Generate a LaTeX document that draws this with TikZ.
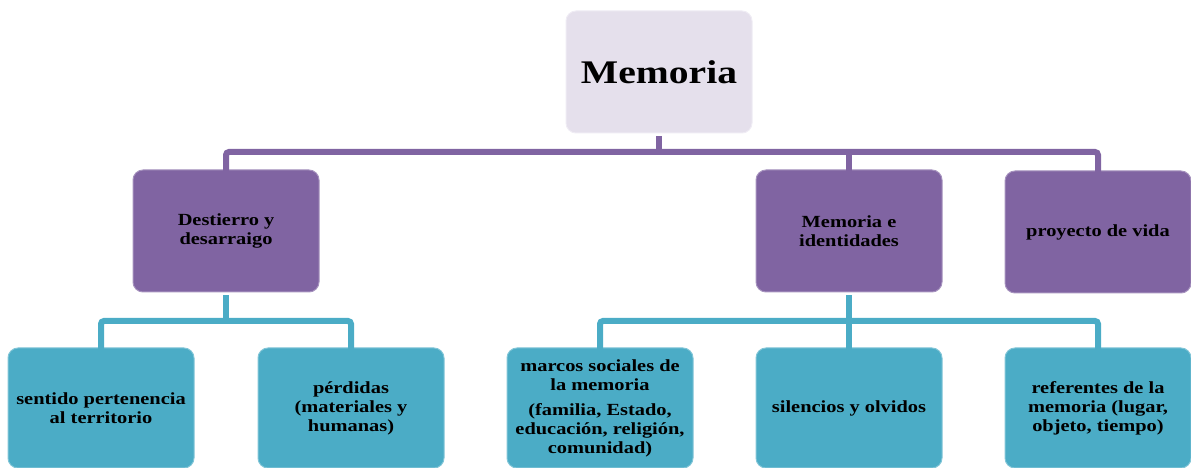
\documentclass[tikz,border=0pt]{standalone}
\usepackage{fontspec}
\setmainfont{Liberation Serif}[FakeStretch=1.2]
\usetikzlibrary{calc}
\definecolor{lav}{HTML}{E5E0EC}
\definecolor{purp}{HTML}{8064A2}
\definecolor{teal}{HTML}{4BACC6}
\tikzset{
  box/.style={rounded corners=10pt, minimum width=186pt, align=center, font=\bfseries\fontsize{17}{19}\selectfont, text=black, line width=1pt},
  topbox/.style={box, fill=lav, draw=lav!60!white, minimum height=122pt, font=\bfseries\fontsize{33}{40}\selectfont},
  midbox/.style={box, fill=purp, draw=purp!70!white, minimum height=122pt},
  lowbox/.style={box, fill=teal, draw=teal!70!white, minimum height=120pt},
  pline/.style={draw=purp, line width=6pt},
  tline/.style={draw=teal, line width=6pt},
}
\begin{document}
\begin{tikzpicture}[x=1pt,y=1pt]
\useasboundingbox (0,0) rectangle (1191,468);
\node[topbox] (mem) at (659,396) {Memoria};
\node[midbox] (d1) at (226,237) {Destierro y\\desarraigo};
\node[midbox] (d2) at (849,237) {Memoria e\\identidades};
\node[midbox] (d3) at (1098,236) {proyecto de vida};
\node[lowbox] (e1) at (101,60) {sentido pertenencia\\al territorio};
\node[lowbox] (e2) at (351,60) {pérdidas\\(materiales y\\humanas)};
\node[lowbox] (e3) at (600,60) {marcos sociales de\\la memoria\\[6pt](familia, Estado,\\educación, religión,\\comunidad)};
\node[lowbox] (e4) at (849,60) {silencios y olvidos};
\node[lowbox] (e5) at (1098,60) {referentes de la\\memoria (lugar,\\objeto, tiempo)};
\coordinate (c1) at (659,316);
\coordinate (t1) at (226,147);
\coordinate (t2) at (849,147);
\draw[pline] ([yshift=-3pt]mem.south) -- (c1);
\draw[pline, rounded corners=3pt] ([yshift=-5pt]d1.north) |- (c1) -| ([yshift=-5pt]d3.north);
\draw[pline] (c1 -| d2.north) -- ([yshift=-5pt]d2.north);
\draw[tline] ([yshift=-3pt]d1.south) -- (t1);
\draw[tline, rounded corners=3pt] ([yshift=-5pt]e1.north) |- (t1) -| ([yshift=-5pt]e2.north);
\draw[tline] ([yshift=-3pt]d2.south) -- ([yshift=-5pt]e4.north);
\draw[tline, rounded corners=3pt] ([yshift=-5pt]e3.north) |- (t2) -| ([yshift=-5pt]e5.north);
\end{tikzpicture}
\end{document}
